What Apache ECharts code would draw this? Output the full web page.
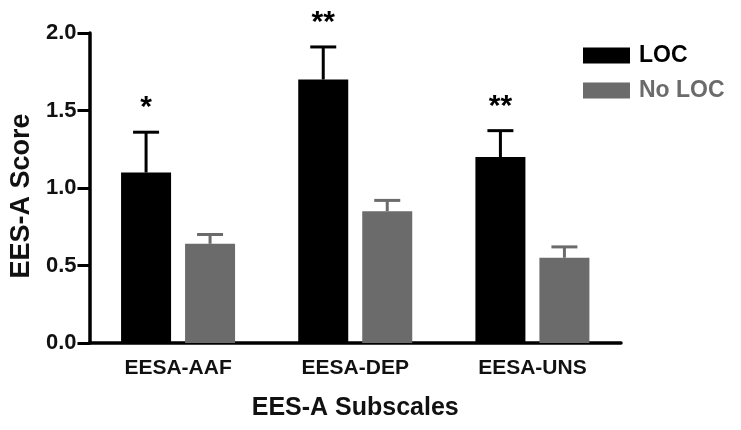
<!DOCTYPE html>
<html>
<head>
<meta charset="utf-8">
<script src="https://cdn.jsdelivr.net/npm/echarts@6/dist/echarts.min.js"></script>
<style>html,body{margin:0;padding:0;background:#fff}#c{width:741px;height:430px}</style>
</head>
<body>
<div id="c"></div>
<script>
const categories = ['EESA-AAF', 'EESA-DEP', 'EESA-UNS'];
const seriesNames = ['LOC', 'No LOC'];
const locMean = [1.10, 1.70, 1.20];
const locErr = [0.26, 0.21, 0.17];
const noLocMean = [0.64, 0.85, 0.55];
const noLocErr = [0.06, 0.07, 0.07];
const significance = ['*', '**', '**'];
const yTicks = [0, 0.5, 1.0, 1.5, 2.0];

const BLACK = '#000000';
const GRAY = '#6b6b6b';
const FONT = 'Liberation Sans, Arial, Helvetica, sans-serif';

const errData = [];
categories.forEach((c, i) => {
  errData.push([i, locMean[i], locErr[i], 0, significance[i]]);
  errData.push([i, noLocMean[i], noLocErr[i], 1, '']);
});

const chart = echarts.init(document.getElementById('c'), null, {renderer: 'canvas'});
chart.setOption({
  animation: false,
  backgroundColor: '#fff',
  grid: {left: 86, right: 120, top: 33, bottom: 87, containLabel: false},
  legend: {
    orient: 'vertical', left: 583, top: 44, padding: 0, itemWidth: 47, itemHeight: 16, itemGap: 12,
    icon: 'rect',
    data: [
      {name: seriesNames[0], textStyle: {color: BLACK}},
      {name: seriesNames[1], textStyle: {color: GRAY}}
    ],
    textStyle: {fontFamily: FONT, fontWeight: 'bold', fontSize: 23, padding: [0, 0, 0, 4]}
  },
  xAxis: {
    type: 'category', data: categories,
    axisLine: {lineStyle: {color: BLACK, width: 3.5}},
    axisTick: {alignWithLabel: true, length: 9, lineStyle: {color: BLACK, width: 3}},
    axisLabel: {color: '#111', fontFamily: FONT, fontWeight: 'bold', fontSize: 21, margin: 15},
    name: 'EES-A Subscales', nameLocation: 'middle', nameGap: 53,
    nameTextStyle: {color: '#111', fontFamily: FONT, fontWeight: 'bold', fontSize: 25}
  },
  yAxis: {
    type: 'value', min: 0, max: 2, interval: 0.5,
    axisLine: {show: true, lineStyle: {color: BLACK, width: 3.5}},
    axisTick: {show: true, length: 12, lineStyle: {color: BLACK, width: 3}},
    splitLine: {show: false},
    axisLabel: {color: '#111', fontFamily: FONT, fontWeight: 'bold', fontSize: 22, margin: 13,
      formatter: v => yTicks.includes(v) ? v.toFixed(1) : ''},
    name: 'EES-A Score', nameLocation: 'middle', nameGap: 52, nameRotate: 90,
    nameTextStyle: {color: '#111', fontFamily: FONT, fontWeight: 'bold', fontSize: 27, padding: [0, 16, 0, 0]}
  },
  series: [
    {name: seriesNames[0], type: 'bar', data: locMean, barWidth: 50, barGap: '28%',
      itemStyle: {color: BLACK}},
    {name: seriesNames[1], type: 'bar', data: noLocMean, barWidth: 50,
      itemStyle: {color: GRAY}},
    {
      name: 'err', type: 'custom', data: errData, z: 5,
      renderItem: function (params, api) {
        const cat = api.value(0), mean = api.value(1), err = api.value(2), grp = api.value(3);
        const sig = errData[params.dataIndex][4];
        const off = grp === 0 ? -32 : 32;
        const base = api.coord([cat, mean]);
        const top = api.coord([cat, mean + err]);
        const x = base[0] + off;
        const col = grp === 0 ? BLACK : GRAY;
        const hw = 13;
        const children = [
          {type: 'line', shape: {x1: x, y1: base[1], x2: x, y2: top[1]}, style: {stroke: col, lineWidth: 3}},
          {type: 'line', shape: {x1: x - hw, y1: top[1], x2: x + hw, y2: top[1]}, style: {stroke: col, lineWidth: 3}}
        ];
        if (sig) {
          children.push({type: 'text', style: {text: sig, x: x, y: top[1] - 24, align: 'center', verticalAlign: 'middle',
            fill: BLACK, font: 'bold 30px ' + FONT}});
        }
        return {type: 'group', children: children};
      }
    }
  ]
});
</script>
</body>
</html>
